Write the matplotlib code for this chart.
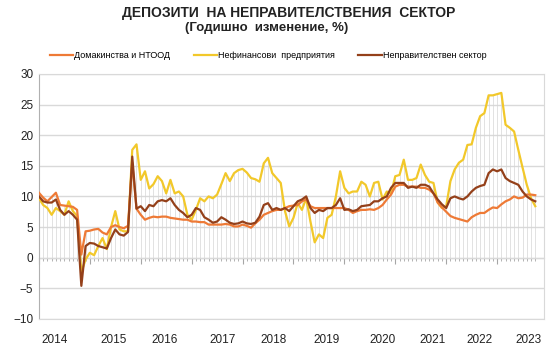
import numpy as np
import matplotlib.pyplot as plt
from matplotlib import font_manager
from matplotlib.ticker import MultipleLocator

plt.rcParams['font.family'] = ['Liberation Sans', 'DejaVu Sans']

# monthly data, Jan 2014 - Oct 2023 (annual change, %)
households = [
    10.6, 9.8, 9.2, 9.9, 10.6, 8.6, 8.5, 8.4, 8.3, 7.8, 0.5, 4.3,
    4.4, 4.6, 4.7, 4.1, 3.8, 5.0, 5.3, 5.0, 4.8, 5.2, 15.5, 8.0,
    7.0, 6.2, 6.5, 6.7, 6.6, 6.7, 6.7, 6.5, 6.4, 6.3, 6.2, 6.2,
    5.9, 5.9, 5.8, 5.8, 5.4, 5.4, 5.4, 5.4, 5.5, 5.4, 5.1, 5.1,
    5.4, 5.2, 4.9, 5.6, 6.2, 7.0, 7.3, 7.6, 7.8, 7.8, 8.1, 8.4,
    8.5, 8.6, 9.2, 9.5, 8.4, 8.1, 8.1, 8.1, 8.1, 8.1, 8.1, 8.1,
    8.1, 7.8, 7.3, 7.6, 7.8, 7.8, 7.9, 7.8, 8.1, 8.6, 9.5, 10.3,
    11.6, 11.9, 11.9, 11.6, 11.6, 11.6, 11.4, 11.4, 11.1, 10.5, 9.0, 8.2,
    7.5, 6.8, 6.5, 6.3, 6.1, 5.9, 6.6, 7.0, 7.3, 7.3, 7.8, 8.2,
    8.1, 8.7, 9.2, 9.5, 10.0, 9.7, 9.8, 10.3, 10.3, 10.2,
]
non_financial = [
    9.7, 8.6, 8.1, 7.0, 8.1, 7.6, 7.0, 9.2, 7.6, 6.8, -2.4, -0.3,
    0.8, 0.4, 1.9, 3.2, 1.4, 5.0, 7.6, 4.6, 4.3, 4.3, 17.6, 18.5,
    12.7, 14.1, 11.3, 12.0, 13.3, 12.5, 10.5, 12.7, 10.5, 10.8, 10.0, 7.0,
    6.2, 7.8, 9.7, 9.2, 10.0, 9.7, 10.3, 12.0, 13.8, 12.5, 13.8, 14.3,
    14.5, 13.9, 13.0, 12.8, 12.4, 15.4, 16.3, 13.8, 13.0, 12.2, 7.6, 5.1,
    6.5, 8.9, 7.8, 9.7, 5.9, 2.5, 3.8, 3.2, 6.5, 7.0, 10.0, 14.1,
    11.4, 10.5, 10.8, 10.8, 12.4, 11.9, 10.0, 12.2, 12.4, 9.5, 10.8, 10.5,
    13.3, 13.5, 16.0, 12.7, 12.7, 13.0, 15.2, 13.5, 12.4, 12.2, 9.0, 8.1,
    8.4, 12.5, 14.4, 15.5, 16.0, 18.4, 18.5, 21.2, 23.1, 23.6, 26.5, 26.5,
    26.7, 26.9, 21.7, 21.2, 20.6, 17.6, 14.7, 11.9, 9.7, 8.4,
]
non_government = [
    10.0, 9.2, 9.0, 9.0, 9.5, 7.8, 7.0, 7.6, 7.0, 6.2, -4.6, 1.9,
    2.4, 2.3, 1.9, 1.7, 1.5, 3.2, 4.6, 3.8, 3.6, 4.2, 16.5, 8.0,
    8.4, 7.6, 8.6, 8.4, 9.2, 9.4, 9.2, 9.7, 8.6, 7.8, 7.3, 6.6,
    7.0, 8.1, 7.8, 6.6, 6.2, 5.7, 5.9, 6.6, 6.2, 5.7, 5.5, 5.6,
    5.9, 5.6, 5.5, 5.7, 6.7, 8.6, 8.9, 7.8, 8.1, 7.8, 8.1, 7.6,
    8.4, 9.2, 9.5, 10.0, 8.1, 7.3, 7.8, 7.6, 8.1, 8.1, 8.6, 9.7,
    7.8, 7.9, 7.6, 7.8, 8.4, 8.5, 8.6, 9.2, 9.2, 9.7, 10.0, 11.4,
    12.2, 12.2, 12.2, 11.4, 11.6, 11.4, 11.9, 11.9, 11.6, 10.5, 9.5, 8.7,
    8.1, 9.7, 10.0, 9.7, 9.5, 10.0, 10.8, 11.4, 11.7, 11.9, 13.8, 14.4,
    14.1, 14.4, 13.0, 12.5, 12.2, 11.9, 10.8, 10.0, 9.5, 9.2,
]

years = ['2014', '2015', '2016', '2017', '2018', '2019', '2020', '2021', '2022', '2023']
year_label_pos = [3.8, 17.7, 29.7, 43.2, 55.4, 67.9, 81.1, 92.9, 103.8, 115.3]

labels = ['Домакинства и НТООД', 'Нефинансови  предприятия', 'Неправителствен сектор']
colors = ['#ee7a36', '#f2c82a', '#94401a']

months = np.arange(len(households))
series = np.array([households, non_financial, non_government])

fig = plt.figure(figsize=(5.56, 3.52), dpi=100)
ax = fig.add_axes([0.070, 0.094, 0.908, 0.696])

# drop lines from each month to the zero axis
hi = np.maximum(series.max(axis=0), 0)
lo = np.minimum(series.min(axis=0), 0)
ax.vlines(months, lo, hi, color='#d6d6d6', lw=0.5, zorder=1)

order = [1, 0, 2]
handles = [None] * 3
for k in order:
    handles[k], = ax.plot(months, series[k], color=colors[k], lw=1.6,
                          label=labels[k], zorder=3, solid_joinstyle='round')

ax.set_xlim(0, 119)
ax.set_ylim(-10, 30)
ax.yaxis.set_major_locator(MultipleLocator(5))
ax.yaxis.grid(True, color='#d9d9d9', lw=1)
ax.set_axisbelow(True)
ax.tick_params(axis='y', labelsize=8.5, length=0, pad=4, labelcolor='#222222')
for s in ax.spines.values():
    s.set_color('#d9d9d9')
ax.spines['left'].set_color('#b0b0b0')

ax.set_xticks(year_label_pos)
ax.set_xticklabels(years)
ax.tick_params(axis='x', length=0, labelsize=8.5, pad=11, labelcolor='#222222')

# category axis drawn at zero
zero_ax = ax.secondary_xaxis(0.25)
zero_ax.spines['bottom'].set_color('#a6a6a6')
zero_ax.set_xticks(months[::12])
zero_ax.set_xticks(months, minor=True)
zero_ax.set_xticklabels([])
zero_ax.tick_params(which='major', length=4, color='#a6a6a6', direction='out')
zero_ax.tick_params(which='minor', length=2, color='#a6a6a6', direction='out')

# narrow title font if available
names = {f.name for f in font_manager.fontManager.ttflist}
if 'Liberation Sans Narrow' in names:
    title_font, t1, t2 = ['Liberation Sans Narrow', 'Liberation Sans'], 12, 11
else:
    title_font, t1, t2 = ['Liberation Sans', 'DejaVu Sans'], 10, 9.5

fig.text(0.52, 0.963, 'ДЕПОЗИТИ  НА НЕПРАВИТЕЛСТВЕНИЯ  СЕКТОР', ha='center', va='center',
         fontsize=t1, fontweight='bold', color='#222222', family=title_font)
fig.text(0.48, 0.92, '(Годишно  изменение, %)', ha='center', va='center',
         fontsize=t2, fontweight='bold', color='#222222', family=title_font)

fig.legend(handles=handles, loc='center', bbox_to_anchor=(0.482, 0.842), ncol=3,
           frameon=False, fontsize=6.5, handlelength=2.6, handletextpad=0.1,
           columnspacing=2.6)

fig.savefig('out.png', dpi=100)
